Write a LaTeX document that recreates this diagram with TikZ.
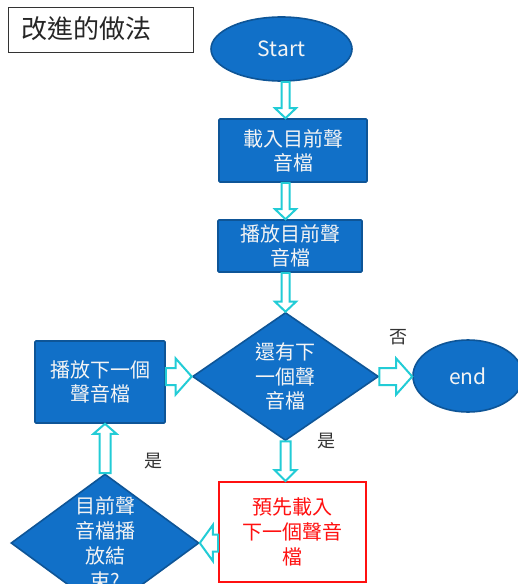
\documentclass[tikz,border=0pt]{standalone}
\usepackage{fontspec}
\setmainfont{Noto Sans CJK TC}
\usetikzlibrary{shapes.geometric,calc}
\definecolor{bfill}{HTML}{1170C8}
\definecolor{bdraw}{HTML}{0E5597}
\definecolor{acyan}{HTML}{22CCD6}
\definecolor{txtw}{HTML}{F4F4F4}
\definecolor{lbl}{HTML}{333333}
\definecolor{rred}{HTML}{FF1010}
\tikzset{
  bluebox/.style={rectangle, rounded corners=1pt, fill=bfill, draw=bdraw, line width=1.6pt,
    text=txtw, align=center, font=\fontsize{20}{24}\selectfont, inner sep=0pt},
  blueell/.style={ellipse, fill=bfill, draw=bdraw, line width=1.6pt, text=txtw,
    font=\fontsize{21}{24}\selectfont, inner sep=0pt},
  bluedia/.style={diamond, fill=bfill, draw=bdraw, line width=1.6pt, inner sep=0pt},
  diatext/.style={text=txtw, align=center, font=\fontsize{20}{24.5}\selectfont, inner sep=0pt},
  redbox/.style={rectangle, fill=white, draw=rred, line width=2pt, text=rred,
    align=center, font=\fontsize{20}{25}\selectfont, inner sep=0pt},
  lbltext/.style={text=lbl, font=\fontsize{18}{20}\selectfont, inner sep=0pt},
  blockarr/.style={draw=acyan, fill=white, line width=2pt, line join=miter},
}
\newcommand\barrow[5]{%
  \draw[blockarr] let \p1=(#1), \p2=(#2), \n1={atan2(\y2-\y1,\x2-\x1)} in
    ($(\p1)+(\n1+90:#3pt)$) -- ($(\p2)+(\n1+180:#5pt)+(\n1+90:#3pt)$)
    -- ($(\p2)+(\n1+180:#5pt)+(\n1+90:#4pt)$) -- (\p2)
    -- ($(\p2)+(\n1+180:#5pt)+(\n1-90:#4pt)$) -- ($(\p2)+(\n1+180:#5pt)+(\n1-90:#3pt)$)
    -- ($(\p1)+(\n1-90:#3pt)$) -- cycle;}
\begin{document}
\begin{tikzpicture}[x=1pt,y=-1pt]
\useasboundingbox (0,0) rectangle (518,584);
\clip (0,0) rectangle (518,584);
\fill[white] (0,0) rectangle (518,584);

% title
\node[draw=black!80, line width=1pt, minimum width=185pt, minimum height=45pt, inner sep=0pt] (title) at (100.5,29.5) {};
\node[anchor=west, text=black!85, font=\fontsize{26}{28}\selectfont, inner sep=0pt] (titletext) at (21,28.5) {改進的做法};

% nodes
\node[blueell, minimum width=141pt, minimum height=64pt] (start) at (281.5,49) {Start};
\node[bluebox, minimum width=148pt, minimum height=63pt] (load) at (293,150.5) {載入目前聲\\音檔};
\node[bluebox, minimum width=144pt, minimum height=52pt] (play) at (290,246) {播放目前聲\\音檔};
\node[bluedia, minimum width=186pt, minimum height=128pt] (more) at (285.5,376.5) {};
\node[diatext] (moretext) at (more) {還有下\\一個聲\\音檔};
\node[blueell, minimum width=110pt, minimum height=72pt] (end) at (468,376) {end};
\node[bluebox, minimum width=130pt, minimum height=82pt] (next) at (100,382) {播放下一個\\聲音檔};
\node[bluedia, minimum width=188pt, minimum height=138pt] (done) at (105,543) {};
\node[diatext, font=\fontsize{20}{25}\selectfont] (donetext) at (done) {目前聲\\音檔播\\放結\\束?};
\node[redbox, minimum width=147pt, minimum height=100pt] (pre) at (292.5,532) {預先載入\\下一個聲音\\檔};

% labels
\node[lbltext] (no) at (398,337) {否};
\node[lbltext] (yes1) at (326,441) {是};
\node[lbltext] (yes2) at (153,461) {是};

% arrows
\barrow{start.south -| more.north}{load.north -| more.north}{4}{10.5}{10}
\barrow{load.south -| more.north}{play.north -| more.north}{4}{10.5}{10}
\barrow{play.south -| more.north}{more.north}{4}{10.5}{10}
\barrow{more.east}{more.east -| end.west}{8.5}{18}{16}
\barrow{next.east |- more.west}{more.west}{8.5}{18}{16}
\barrow{more.south}{more.south |- pre.north}{5}{11}{11}
\barrow{pre.west |- done.east}{done.east}{8.5}{18}{13}
\barrow{done.north}{done.north |- next.south}{5.5}{11.5}{10}
\end{tikzpicture}
\end{document}
